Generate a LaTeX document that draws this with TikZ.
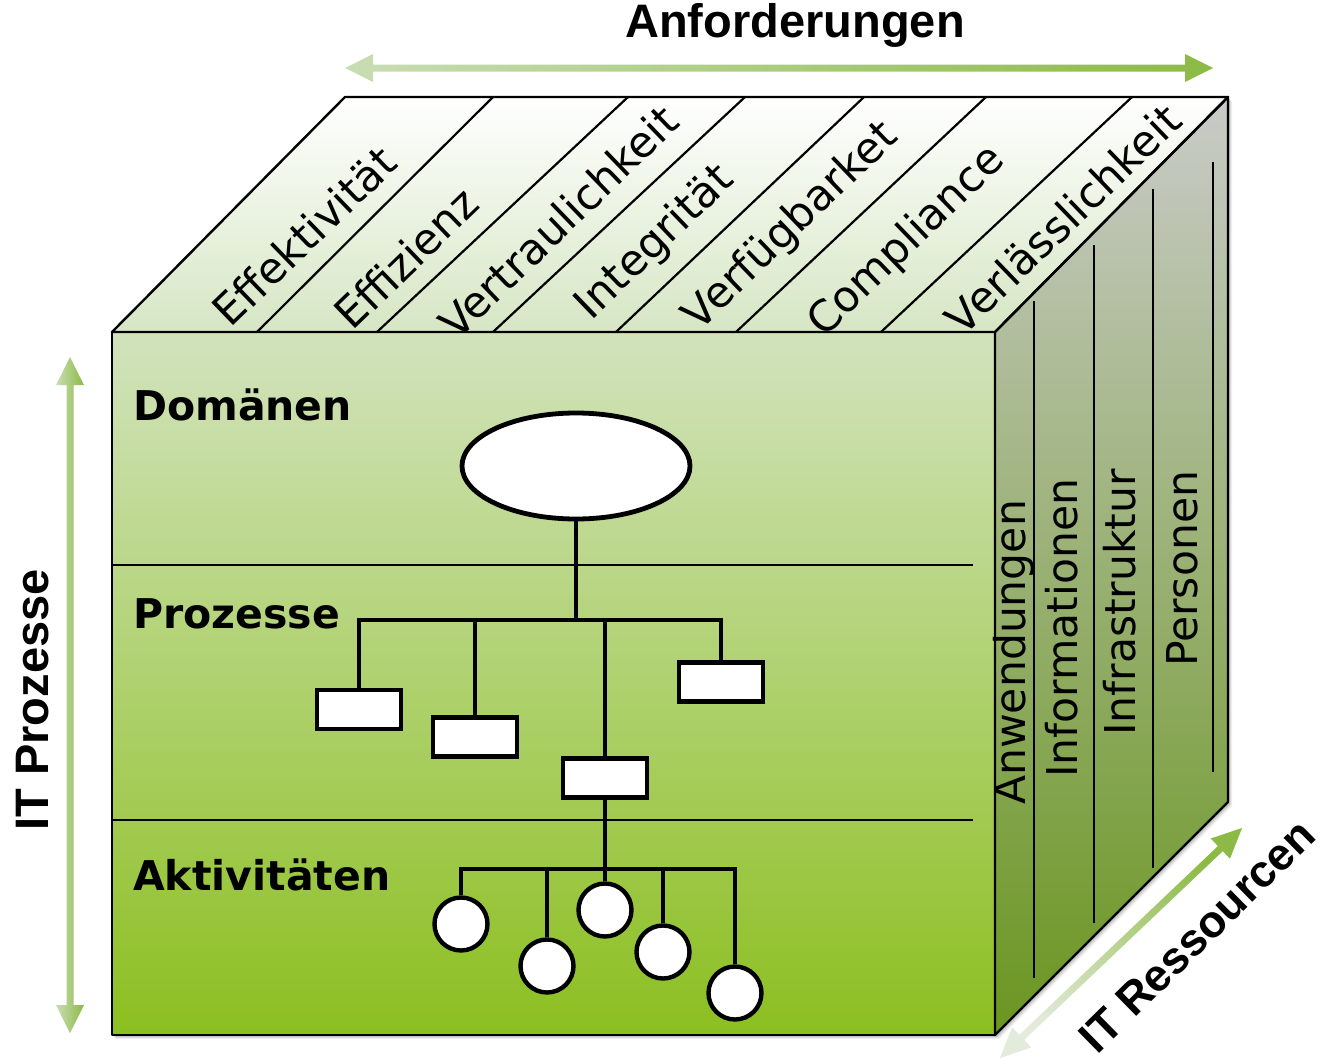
\documentclass[tikz,border=0pt]{standalone}
\usepackage{fontspec}
\setmainfont{DejaVu Sans}
\newfontfamily\axisfont{Liberation Sans}
\usetikzlibrary{shapes.geometric}
\definecolor{frontTop}{HTML}{D2E3BD}
\definecolor{frontMid}{HTML}{A6C376}
\definecolor{frontBot}{HTML}{8CBF20}
\definecolor{topBot}{HTML}{D6E6C4}
\definecolor{sideTop}{HTML}{C9CBC8}
\definecolor{sideMid}{HTML}{9AAE7E}
\definecolor{sideBot}{HTML}{6A9620}
\definecolor{arrPale}{HTML}{C9DDB4}
\definecolor{arrGreen}{HTML}{8CBA45}
\definecolor{arrVeryPale}{HTML}{E3EBDB}
\begin{document}
\begin{tikzpicture}[x=1pt,y=-1pt,
  facedge/.style={draw=black, line width=2.4pt, line join=round},
  divline/.style={black, line width=2.2pt},
  tree/.style={black, line width=4.6pt},
  box/.style={draw=black, fill=white, line width=4.4pt, minimum width=84pt, minimum height=39pt, inner sep=0pt},
  leaf/.style={draw=black, fill=white, line width=4.4pt, circle, minimum size=53pt, inner sep=0pt},
  topfont/.style={font=\fontsize{43}{43}\selectfont, inner sep=0pt, rotate=44},
  sidefont/.style={font=\fontsize{42.5}{42.5}\selectfont, inner sep=0pt, rotate=90, anchor=base west},
  layer/.style={font=\fontsize{41}{41}\selectfont\bfseries, inner sep=0pt, anchor=base west},
  axislabel/.style={font=\axisfont\fontsize{47}{47}\selectfont\bfseries, inner sep=0pt}
]
\useasboundingbox (0,0) rectangle (1328,1063);

% soft shadow
\foreach \s/\o in {4/0.06,3/0.08,2/0.1,1/0.12}{
  \fill[black, opacity=\o] (112+\s,332+\s) -- (345+\s,97+\s) -- (1228+\s,97+\s) -- (1228+\s,802+\s) -- (995+\s,1035+\s) -- (112+\s,1035+\s) -- cycle;
}

% faces
\shade[top color=white, bottom color=topBot] (112,332) -- (345,97) -- (1228,97) -- (995,332) -- cycle;
\shade[top color=sideTop, middle color=sideMid, bottom color=sideBot] (995,332) -- (1228,97) -- (1228,802) -- (995,1035) -- cycle;
\shade[top color=frontTop, middle color=frontMid, bottom color=frontBot] (112,332) rectangle (995,1035);
\draw[facedge] (112,332) -- (345,97) -- (1228,97) -- (995,332) -- cycle;
\draw[facedge] (995,332) -- (1228,97) -- (1228,802) -- (995,1035) -- cycle;
\draw[facedge] (112,332) rectangle (995,1035);

% top face dividers
\foreach \a/\b in {257/493, 377/628, 493/745, 616/864, 736/986, 881/1132}{
  \draw[divline] (\a,332) -- (\b,97);
}
% right face dividers
\foreach \x/\ya/\yb in {1034/301/978, 1094/245/923, 1153/189/868, 1213/162/772}{
  \draw[black, line width=2.8pt] (\x,\ya) -- (\x,\yb);
}
% front face dividers
\draw[divline] (112,565) -- (973,565);
\draw[divline] (112,820) -- (973,820);

% top labels
\node[topfont] (t1) at (304,236) {Effektivität};
\node[topfont] (t2) at (406,258) {Effizienz};
\node[topfont] (t3) at (558,222) {Vertraulichkeit};
\node[topfont] (t4) at (655,243) {Integrität};
\node[topfont] (t5) at (791,227) {Verfügbarket};
\node[topfont] (t6) at (907,242) {Compliance};
\node[topfont] (t7) at (1063,219) {Verlässlichkeit};

% side labels
\node[sidefont] (s1) at (1025,805) {Anwendungen};
\node[sidefont] (s2) at (1077,778) {Informationen};
\node[sidefont] (s3) at (1135,736) {Infrastruktur};
\node[sidefont] (s4) at (1197,667) {Personen};

% layer labels
\node[layer] (l1) at (133,420) {Domänen};
\node[layer] (l2) at (133,628) {Prozesse};
\node[layer] (l3) at (133,890) {Aktivitäten};

% tree
\node[draw=black, fill=white, line width=4.8pt, ellipse, minimum width=228pt, minimum height=106pt, inner sep=0pt] (ell) at (576,466) {};
\node[box] (b1) at (359,709.5) {};
\node[box] (b2) at (475,737) {};
\node[box] (b3) at (605,778) {};
\node[box] (b4) at (721,682) {};
\coordinate (busP) at (0,620);
\coordinate (busA) at (0,869);
\node[leaf] (c1) at (461,924) {};
\node[leaf] (c2) at (547,966) {};
\node[leaf] (c3) at (605,910) {};
\node[leaf] (c4) at (663,952) {};
\node[leaf] (c5) at (735,993) {};

\draw[tree] (ell.south) -- (ell.south |- busP);
\draw[tree] (b1.north) -- (b1.north |- busP) -- (b4.north |- busP) -- (b4.north);
\draw[tree] (b2.north) -- (b2.north |- busP);
\draw[tree] (b3.north) -- (b3.north |- busP);
\draw[tree] (b3.south) -- (b3.south |- busA);
\draw[tree] (c1.north) -- (c1.north |- busA) -- (c5.north |- busA) -- (c5.north);
\draw[tree] (c2.north) -- (c2.north |- busA);
\draw[tree] (c3.north) -- (c3.north |- busA);
\draw[tree] (c4.north) -- (c4.north |- busA);

% axis arrows
\shade[left color=arrPale, right color=arrGreen]
  (345,68) -- (373,54) -- (373,64.5) -- (1185,64.5) -- (1185,54) -- (1213,68) -- (1185,82) -- (1185,71.5) -- (373,71.5) -- (373,82) -- cycle;
\shade[left color=arrPale, right color=arrGreen]
  (70,357) -- (84,385) -- (73.5,385) -- (73.5,1005) -- (84,1005) -- (70,1033) -- (56,1005) -- (66.5,1005) -- (66.5,385) -- (56,385) -- cycle;
\shade[left color=arrVeryPale, right color=arrGreen, shading angle=135]
  (1000,1058) -- (1012.10,1027.19) -- (1019.33,1034.80) -- (1217.93,846.06) -- (1210.70,838.45) -- (1242.08,827.94) -- (1229.98,858.75) -- (1222.75,851.14) -- (1024.15,1039.88) -- (1031.38,1047.49) -- cycle;

% axis labels
\node[axislabel] (ax1) at (795,25) {Anforderungen};
\node[axislabel, rotate=90] (ax2) at (33,700) {IT Prozesse};
\node[axislabel, rotate=44.5, font=\axisfont\fontsize{45}{45}\selectfont\bfseries] (ax3) at (1197,936) {IT Ressourcen};
\end{tikzpicture}
\end{document}
